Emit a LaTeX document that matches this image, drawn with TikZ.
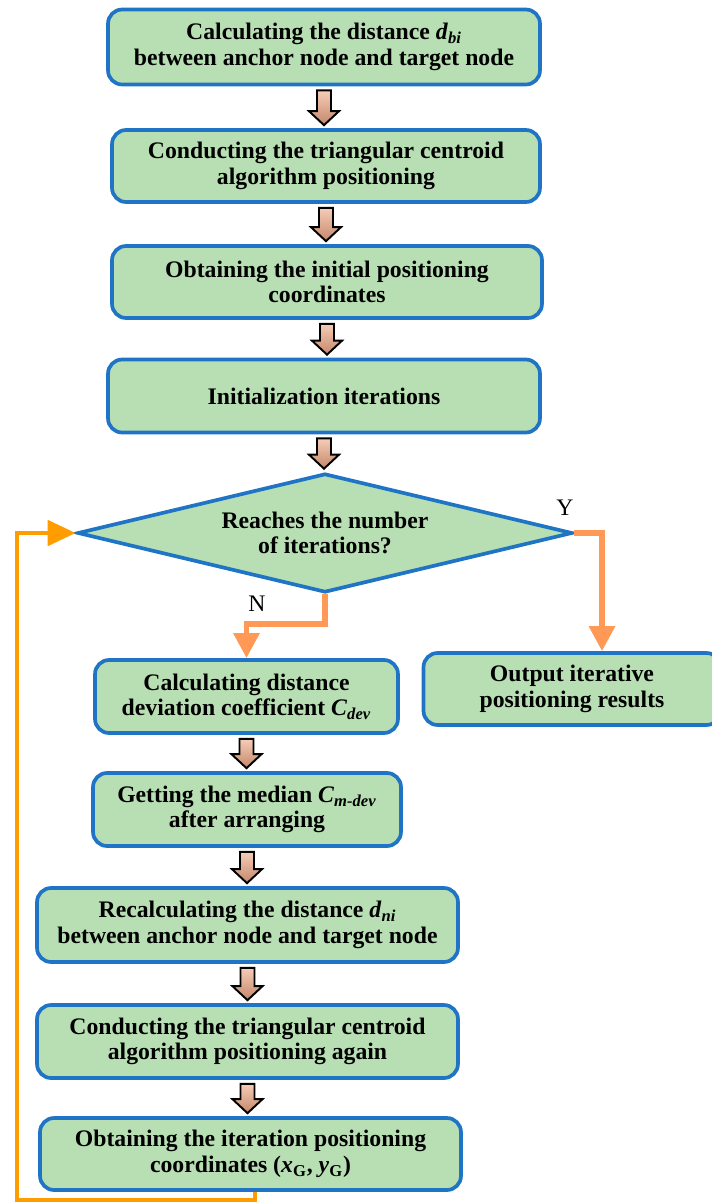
\documentclass[tikz,border=0pt]{standalone}
\usepackage{fontspec}
\setmainfont{Liberation Serif}
\usetikzlibrary{shapes.geometric,arrows.meta,calc}

\definecolor{boxfill}{HTML}{B8DFB3}
\definecolor{boxline}{HTML}{1F74C6}
\definecolor{ynorange}{HTML}{FF9955}
\definecolor{looporange}{HTML}{FF9C00}
\definecolor{arrtop}{HTML}{F6CDB6}
\definecolor{arrbot}{HTML}{C4876B}

% fat shaded arrow from the bottom of one box to the top of the next
\newcommand{\fatarrow}[2]{%
  \coordinate (fa-s) at ($(#1.south)+(0,4)$);
  \coordinate (fa-e) at ($(#2.north -| #1.south)+(0,-3)$);
  \path[fatarr] ($(fa-s)+(-7,0)$) -- ($(fa-s)+(7,0)$) -- ($(fa-e)+(7,-14)$)
    -- ($(fa-e)+(15,-14)$) -- (fa-e) -- ($(fa-e)+(-15,-14)$)
    -- ($(fa-e)+(-7,-14)$) -- cycle;}

\begin{document}
\begin{tikzpicture}[
  x=0.02cm, y=-0.02cm,
  stepbox/.style={
    rectangle,
    draw=boxline,
    fill=boxfill,
    line width=2.1pt,
    rounded corners=8pt,
    align=center,
    inner sep=2pt,
    font=\fontsize{13.5}{14.5}\selectfont\bfseries
  },
  decision/.style={
    diamond,
    draw=boxline,
    fill=boxfill,
    line width=2.1pt,
    aspect=4.16,
    align=center,
    inner sep=1pt,
    minimum width=9.9cm,
    minimum height=2.38cm,
    font=\fontsize{13.5}{14.5}\selectfont\bfseries
  },
  fatarr/.style={draw=black, line width=1.1pt, top color=arrtop, bottom color=arrbot},
  yn/.style={draw=ynorange, line width=3.4pt,
    -{Triangle[width=0.5cm,length=0.5cm]}},
  backloop/.style={draw=looporange, line width=2.8pt,
    -{Triangle[width=0.5cm,length=0.56cm]}},
  lbl/.style={font=\fontsize{13.5}{14.5}\selectfont}
]
  \useasboundingbox (0,0) rectangle (711,1204);

  % main column
  \node[stepbox, minimum width=8.64cm, minimum height=1.5cm] (dist) at (324,47)
    {Calculating the distance \textit{d}\textsubscript{\textit{bi}}\\
     between anchor node and target node};
  \node[stepbox, minimum width=8.56cm, minimum height=1.44cm] (tri) at (326,166)
    {Conducting the triangular centroid\\ algorithm positioning};
  \node[stepbox, minimum width=8.6cm, minimum height=1.44cm] (init) at (327,282)
    {Obtaining the initial positioning\\ coordinates};
  \node[stepbox, minimum width=8.64cm, minimum height=1.46cm] (iter) at (324,396)
    {Initialization iterations};
  \node[decision] (reach) at (325,533) {Reaches the number\\ of iterations?};

  % output
  \node[stepbox, minimum width=5.94cm, minimum height=1.44cm] (out) at (572,689)
    {Output iterative\\ positioning results};

  % iteration branch
  \node[stepbox, minimum width=6.06cm, minimum height=1.46cm] (cdev) at (246.5,696.5)
    {Calculating distance\\ deviation coefficient \textit{C}\textsubscript{\textit{dev}}};
  \node[stepbox, minimum width=6.16cm, minimum height=1.46cm] (median) at (247,809.5)
    {Getting the median \textit{C}\textsubscript{\textit{m-dev}}\\ after arranging};
  \node[stepbox, minimum width=8.42cm, minimum height=1.48cm] (redist) at (247.5,925)
    {Recalculating the distance \textit{d}\textsubscript{\textit{ni}}\\
     between anchor node and target node};
  \node[stepbox, minimum width=8.42cm, minimum height=1.46cm] (retri) at (247.5,1041.5)
    {Conducting the triangular centroid\\ algorithm positioning again};
  \node[stepbox, minimum width=8.42cm, minimum height=1.44cm] (coord) at (250.5,1154)
    {Obtaining the iteration positioning\\
     coordinates (\textit{x}\textsubscript{G}, \textit{y}\textsubscript{G})};

  \fatarrow{dist}{tri}
  \fatarrow{tri}{init}
  \fatarrow{init}{iter}
  \fatarrow{iter}{reach}
  \fatarrow{cdev}{median}
  \fatarrow{median}{redist}
  \fatarrow{redist}{retri}
  \fatarrow{retri}{coord}

  % yes / no branches
  \draw[yn] (reach.east) -| ([xshift=0.6cm]out.north);
  \draw[yn] (reach.south) -- ++(0,30) -| (cdev.north);
  \node[lbl] (ylab) at (565,508) {Y};
  \node[lbl] (nlab) at (257,604) {N};

  % back to the decision
  \coordinate (lpcorner) at (17,1200);
  \draw[backloop] ([xshift=0.09cm]coord.south) |- (lpcorner) |- (reach.west);
\end{tikzpicture}
\end{document}
